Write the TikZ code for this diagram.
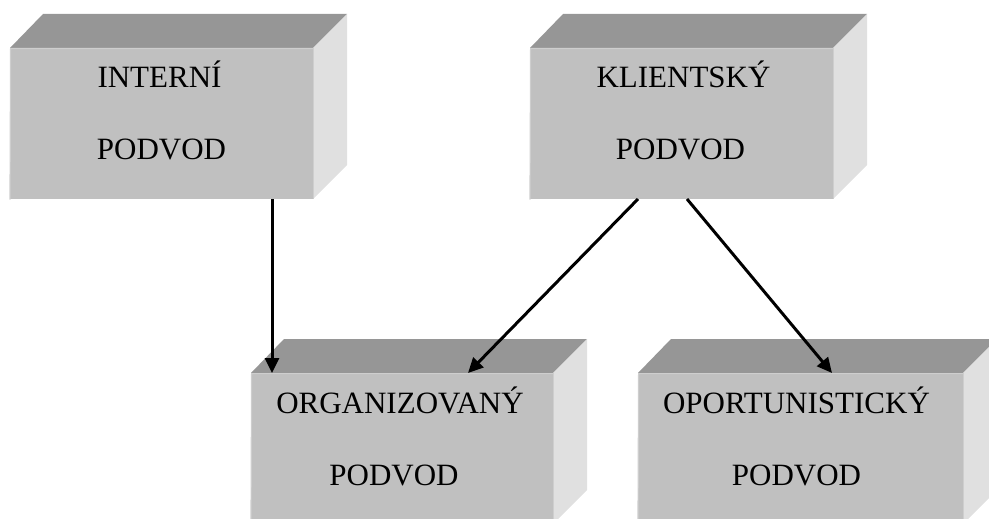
\documentclass[tikz,border=0pt]{standalone}
\usepackage{fontspec}
\setmainfont{Liberation Serif}
\usepackage{tikz}
\usetikzlibrary{arrows.meta,positioning,calc}
\definecolor{frontgray}{HTML}{C0C0C0}
\definecolor{topgray}{HTML}{969696}
\definecolor{sidegray}{HTML}{E0E0E0}
\definecolor{rimgray}{HTML}{CECECE}
\tikzset{
    every picture/.style={line join=miter},
    frontface/.style={fill=frontgray,draw=none,inner sep=0pt,outer sep=0pt,
      minimum height=151pt},
    boxword/.style={font=\fontsize{31}{36}\selectfont,inner sep=0pt,anchor=base},
    flowarrow/.style={-{Triangle[length=15pt,width=14pt]},draw=black,
      line width=3pt}
}

\begin{document}
\begin{tikzpicture}[x=1pt,y=-1pt]
  \clip (0,0) rectangle (989,519);
  % front faces of the four boxes
  \node[frontface,minimum width=303pt] (interni) at (161.5,123.5) {};
  \node[frontface,minimum width=303pt] (klient) at (681.5,123.5) {};
  \node[frontface,minimum width=302pt] (org) at (402,448.5) {};
  \node[frontface,minimum width=325pt] (opor) at (800.5,448.5) {};
  % top and side faces, thin light rim on the front
  \foreach \b in {interni,klient,org,opor}{
    \fill[topgray] (\b.north west) -- ++(33,-34) -- ($(\b.north east)+(34,-34)$)
      -- (\b.north east) -- cycle;
    \fill[sidegray] (\b.north east) -- ++(34,-34) -- ($(\b.south east)+(34,-34)$)
      -- (\b.south east) -- cycle;
    \draw[rimgray,line width=1.2pt] ([yshift=-0.6pt]\b.south west) -- ([xshift=0.6pt,yshift=-0.6pt]\b.north west)
      -- ([yshift=-0.6pt]\b.north east);
    \draw[rimgray,line width=1pt] ([xshift=0.5pt]\b.north east) -- ([xshift=0.5pt]\b.south east);
  }
  % labels
  \node[boxword] (interni-a) at ($(interni.north)+(-2,40)$) {INTERNÍ};
  \node[boxword] (interni-b) at ($(interni.north)+(0,112)$) {PODVOD};
  \node[boxword] (klient-a) at ($(klient.north)+(2,40)$) {KLIENTSKÝ};
  \node[boxword] (klient-b) at ($(klient.north)+(-1,112)$) {PODVOD};
  \node[boxword] (org-a) at ($(org.north)+(-2,40)$) {ORGANIZOVANÝ};
  \node[boxword] (org-b) at ($(org.north)+(-8,112)$) {PODVOD};
  \node[boxword] (opor-a) at ($(opor.north)+(-4,40)$) {OPORTUNISTICKÝ};
  \node[boxword] (opor-b) at ($(opor.north)+(-4,112)$) {PODVOD};
  % connectors
  \draw[flowarrow] ([xshift=21pt]org.north west |- interni.south) -- ([xshift=21pt]org.north west);
  \draw[flowarrow] ([xshift=-43.5pt]klient.south) -- ([xshift=66pt]org.north);
  \draw[flowarrow] ([xshift=5.5pt]klient.south) -- ([xshift=31.5pt]opor.north);
\end{tikzpicture}
\end{document}
